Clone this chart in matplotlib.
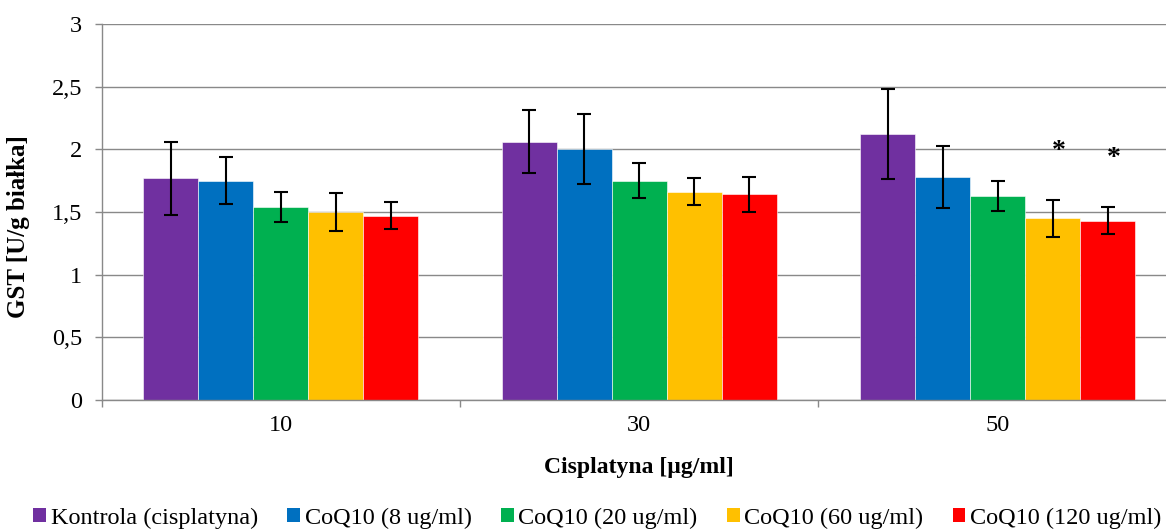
import matplotlib
matplotlib.use("Agg")
import matplotlib.pyplot as plt
from matplotlib.patches import Patch
import matplotlib.transforms as mtransforms
import numpy as np

plt.rcParams['font.family'] = ['Liberation Serif', 'DejaVu Serif']

categories = ['10', '30', '50']
series_names = ['Kontrola (cisplatyna)', 'CoQ10 (8 ug/ml)', 'CoQ10 (20 ug/ml)',
                'CoQ10 (60 ug/ml)', 'CoQ10 (120 ug/ml)']
colors = ['#7030A0', '#0070C0', '#00B050', '#FFC000', '#FF0000']

kontrola = [1.77, 2.06, 2.12]
coq8 = [1.75, 2.00, 1.78]
coq20 = [1.54, 1.75, 1.63]
coq60 = [1.50, 1.66, 1.45]
coq120 = [1.47, 1.64, 1.43]

err_kontrola = [0.29, 0.25, 0.36]
err_coq8 = [0.185, 0.28, 0.245]
err_coq20 = [0.122, 0.14, 0.12]
err_coq60 = [0.149, 0.108, 0.147]
err_coq120 = [0.108, 0.14, 0.108]

# significance markers: (category index, series index, y)
stars = [(2, 3, 1.98), (2, 4, 1.93)]

y_ticks = [0, 0.5, 1, 1.5, 2, 2.5, 3]
y_tick_labels = ['0', '0,5', '1', '1,5', '2', '2,5', '3']

values = [kontrola, coq8, coq20, coq60, coq120]
errors = [err_kontrola, err_coq8, err_coq20, err_coq60, err_coq120]

W, H = 1166, 529
fig = plt.figure(figsize=(W / 100, H / 100), dpi=100)
left_px, right_px, top_px, bot_px = 101.5, 1177, 24, 400
ax = fig.add_axes([left_px / W, (H - bot_px) / H, (right_px - left_px) / W, (bot_px - top_px) / H])

grid_color = '#898989'
bw = 0.1536
x = np.arange(len(categories))
for i, (vals, errs, col) in enumerate(zip(values, errors, colors)):
    pos = x + (i - 2) * bw
    ax.bar(pos, vals, width=bw, color=col, edgecolor='white', linewidth=0.4, zorder=2)
    ax.errorbar(pos, vals, yerr=errs, fmt='none', ecolor='black', elinewidth=1.5,
                capsize=4.8, capthick=1.5, zorder=3)

star_offset = mtransforms.ScaledTranslation(6 / 100, 0, fig.dpi_scale_trans)
for ci, si, yv in stars:
    ax.text(x[ci] + (si - 2) * bw, yv, '*', ha='center', va='center',
            fontsize=20, fontweight='bold', color='black', zorder=4,
            transform=ax.transData + star_offset)

ax.set_xlim(-0.5, 2.5)
ax.set_ylim(0, 3)
ax.set_yticks(y_ticks)
ax.set_yticklabels(y_tick_labels, fontsize=17.5)
ax.yaxis.grid(True, color=grid_color, linewidth=1.0, zorder=0)
ax.set_axisbelow(True)

ax.set_xticks(np.arange(-0.5, 2.6, 1.0))
ax.set_xticklabels([])
ax.set_xticks(x, minor=True)
ax.set_xticklabels(categories, minor=True, fontsize=17.5)
ax.tick_params(axis='x', which='major', length=5, width=1.0, color=grid_color, direction='out')
ax.tick_params(axis='x', which='minor', length=0, pad=11)
ax.tick_params(axis='y', length=5, width=1.0, color=grid_color, pad=9)

for s in ['top', 'right']:
    ax.spines[s].set_visible(False)
for s in ['left', 'bottom']:
    ax.spines[s].set_color(grid_color)
    ax.spines[s].set_linewidth(1.0)

ax.set_xlabel('Cisplatyna [µg/ml]', fontsize=17, fontweight='bold')
ax.xaxis.set_label_coords(0.5, (bot_px - 468) / (bot_px - top_px))
ax.xaxis.label.set_verticalalignment('center')
ax.set_ylabel('GST [U/g białka]', fontsize=18, fontweight='bold')
ax.yaxis.set_label_coords((18 - left_px) / (right_px - left_px), (bot_px - 227) / (bot_px - top_px))
ax.yaxis.label.set_verticalalignment('center')

handles = [Patch(facecolor=c, edgecolor='none') for c in colors]
fig.legend(handles, series_names, ncol=5, loc='center', bbox_to_anchor=(597.5 / W, 11 / H),
           frameon=False, fontsize=17.5, handlelength=0.52, handleheight=0.52,
           handletextpad=0.2, columnspacing=1.2, borderaxespad=0, borderpad=0)

fig.savefig('out.png', dpi=100)
